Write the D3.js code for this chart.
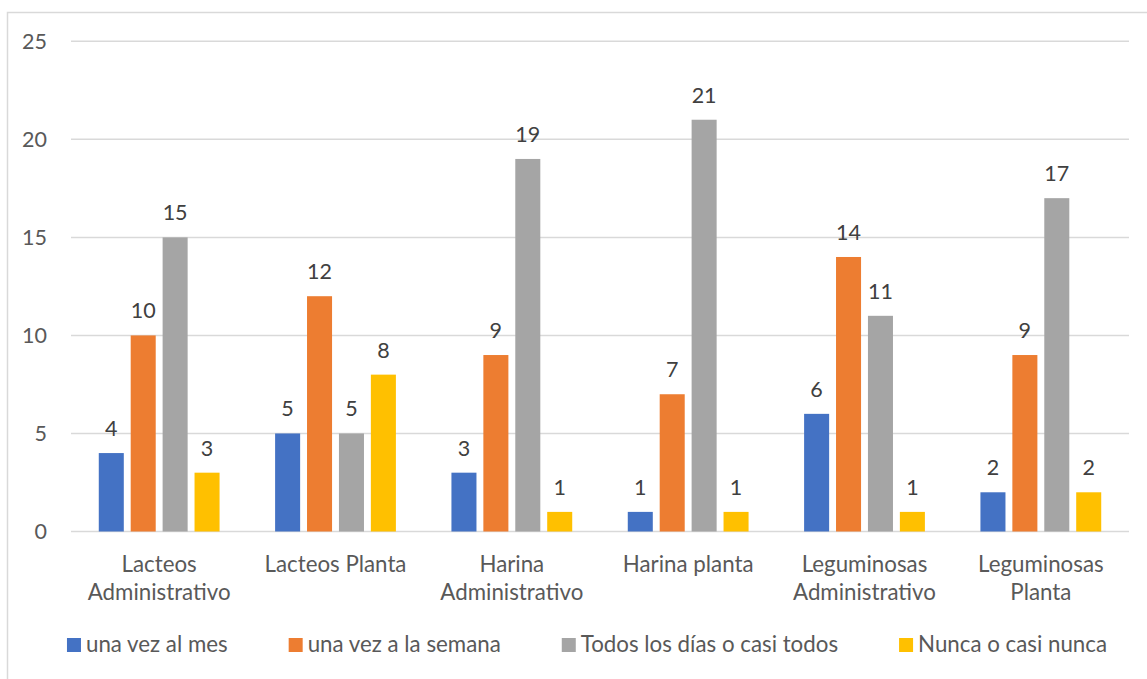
<!DOCTYPE html>
<html>
<head>
<meta charset="utf-8">
<script src="https://cdn.jsdelivr.net/npm/d3@7"></script>
<style>
  html, body { margin: 0; padding: 0; background: #ffffff; }
  svg { display: block; font-family: Lato, "Noto Sans", sans-serif; }
</style>
</head>
<body>
<svg id="chart" width="1147" height="679"></svg>
<script>
// Categories (multi-line labels split on "\n")
const categories = [
  "Lacteos\nAdministrativo",
  "Lacteos Planta",
  "Harina\nAdministrativo",
  "Harina planta",
  "Leguminosas\nAdministrativo",
  "Leguminosas\nPlanta"
];

const seriesNames = [
  "una vez al mes",
  "una vez a la semana",
  "Todos los días o casi todos",
  "Nunca o casi nunca"
];

const unaVezAlMes      = [4, 5, 3, 1, 6, 2];
const unaVezALaSemana  = [10, 12, 9, 7, 14, 9];
const todosLosDias     = [15, 5, 19, 21, 11, 17];
const nuncaOCasiNunca  = [3, 8, 1, 1, 1, 2];

const yTicks = [0, 5, 10, 15, 20, 25];

const colors = ["#4472C4", "#ED7D31", "#A5A5A5", "#FFC000"];

const seriesValues = [unaVezAlMes, unaVezALaSemana, todosLosDias, nuncaOCasiNunca];

const FS_NUM = 21.5;   // tick and value labels
const FS_TXT = 22.3;   // category and legend labels

const svg = d3.select("#chart");

// Outer chart frame
svg.append("rect")
  .attr("x", 7.5).attr("y", 12.5)
  .attr("width", 1200).attr("height", 700)
  .attr("fill", "#ffffff")
  .attr("stroke", "#d9d9d9")
  .attr("stroke-width", 1.5);

const plot = { left: 71, right: 1129, top: 41.3, bottom: 531.5 };

const y = d3.scaleLinear().domain([0, 25]).range([plot.bottom, plot.top]);

const x0 = d3.scaleBand()
  .domain(d3.range(categories.length))
  .range([plot.left, plot.right])
  .padding(0);

const x1 = d3.scaleBand()
  .domain(d3.range(seriesNames.length))
  .range([0, x0.bandwidth()])
  .paddingInner(0.216)
  .paddingOuter(0.87);

// Gridlines and y tick labels
const grid = svg.append("g");
grid.selectAll("line")
  .data(yTicks)
  .join("line")
  .attr("x1", plot.left).attr("x2", plot.right)
  .attr("y1", d => y(d)).attr("y2", d => y(d))
  .attr("stroke", "#d9d9d9")
  .attr("stroke-width", 1.5);

grid.selectAll("text")
  .data(yTicks)
  .join("text")
  .attr("x", 47)
  .attr("y", d => y(d))
  .attr("dy", "0.35em")
  .attr("text-anchor", "end")
  .attr("fill", "#595959")
  .attr("font-size", FS_NUM)
  .text(d => d);

// Bars
const groups = svg.append("g").selectAll("g")
  .data(categories.map((c, i) => i))
  .join("g")
  .attr("transform", i => `translate(${x0(i)},0)`);

groups.selectAll("rect")
  .data(i => seriesValues.map((vals, s) => ({ s, v: vals[i] })))
  .join("rect")
  .attr("x", d => x1(d.s))
  .attr("width", x1.bandwidth())
  .attr("y", d => y(d.v))
  .attr("height", d => y(0) - y(d.v))
  .attr("fill", d => colors[d.s]);

// Value labels
groups.selectAll("text")
  .data(i => seriesValues.map((vals, s) => ({ s, v: vals[i] })))
  .join("text")
  .attr("x", d => x1(d.s) + x1.bandwidth() / 2)
  .attr("y", d => y(d.v) - 17)
  .attr("text-anchor", "middle")
  .attr("fill", "#404040")
  .attr("font-size", FS_NUM)
  .text(d => d.v);

// Category labels
const catG = svg.append("g");
categories.forEach((c, i) => {
  const cx = x0(i) + x0.bandwidth() / 2;
  const t = catG.append("text")
    .attr("x", cx)
    .attr("y", 572)
    .attr("text-anchor", "middle")
    .attr("fill", "#595959")
    .attr("font-size", FS_TXT);
  c.split("\n").forEach((line, k) => {
    t.append("tspan")
      .attr("x", cx)
      .attr("dy", k === 0 ? 0 : 28)
      .text(line);
  });
});

// Legend
const legend = svg.append("g");
const items = legend.selectAll("g")
  .data(seriesNames)
  .join("g");
items.append("rect")
  .attr("width", 14).attr("height", 14)
  .attr("y", 638)
  .attr("fill", (d, i) => colors[i]);
items.append("text")
  .attr("x", 19)
  .attr("y", 651.5)
  .attr("fill", "#595959")
  .attr("font-size", FS_TXT)
  .text(d => d);

const gap = 61;
const widths = [];
items.each(function () {
  widths.push(19 + d3.select(this).select("text").node().getComputedTextLength());
});
const total = d3.sum(widths) + gap * (widths.length - 1);
let cursor = 587 - total / 2;
items.attr("transform", (d, i) => {
  const tx = cursor;
  cursor += widths[i] + gap;
  return `translate(${tx},0)`;
});
</script>
</body>
</html>
